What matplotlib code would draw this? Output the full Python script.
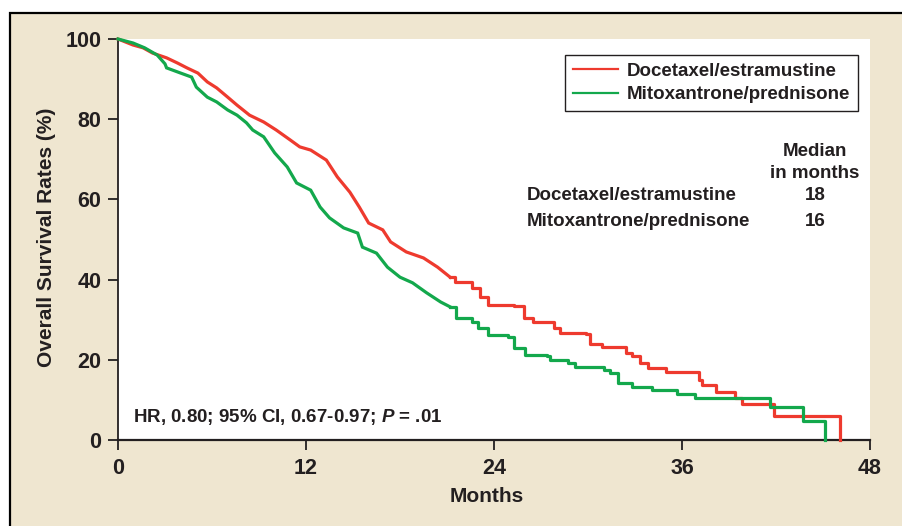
import matplotlib
matplotlib.use("Agg")
import matplotlib.pyplot as plt
from matplotlib.patches import Rectangle
from matplotlib.lines import Line2D

# Kaplan-Meier curves: months, overall survival (%)
doc_months = [0, 0.96, 1.6, 2.2, 3.1, 3.8, 4.4, 5.1, 5.7, 6.3,
              7.0, 7.6, 8.4, 9.3, 10.1, 11.0, 11.6, 12.3, 13.3, 14.0,
              14.8, 15.4, 16.0, 16.9, 17.4, 18.4, 19.5, 20.4, 21.2, 21.5,
              22.6, 23.1, 23.6, 25.3, 25.9, 26.5, 27.8, 28.2, 29.9, 30.1,
              30.9, 32.4, 32.8, 33.3, 33.8, 35.0, 37.1, 37.3, 38.2, 39.4,
              39.8, 41.9, 46.1]
doc_surv = [100, 98.5, 97.8, 96.5, 95.3, 94.0, 92.8, 91.5, 89.3, 87.8,
            85.5, 83.5, 81.0, 79.3, 77.3, 74.8, 73.1, 72.3, 69.8, 65.6,
            61.8, 58.1, 54.1, 52.4, 49.4, 46.9, 45.4, 43.1, 40.6, 39.4,
            37.9, 35.7, 33.7, 33.4, 30.4, 29.4, 27.9, 26.7, 26.4, 23.9,
            23.2, 21.7, 20.9, 19.2, 18.0, 17.0, 15.0, 13.7, 12.0, 10.5,
            9.0, 6.0, 0]

mit_months = [0, 0.96, 1.7, 2.5, 3.0, 3.1, 4.0, 4.7, 5.0, 5.7,
              6.3, 7.0, 7.6, 8.2, 8.6, 9.3, 10.0, 10.8, 11.4, 12.3,
              12.9, 13.5, 14.4, 15.3, 15.6, 16.5, 17.2, 18.0, 18.8, 19.7,
              20.6, 21.2, 21.6, 22.6, 23.0, 23.6, 24.9, 25.3, 26.0, 27.4,
              27.6, 28.7, 29.2, 31.0, 31.4, 31.9, 32.8, 34.1, 35.7, 36.8,
              41.6, 43.7, 45.1]
mit_surv = [100, 99, 97.8, 96, 93.8, 92.8, 91.5, 90.5, 88.0, 85.5,
            84.3, 82.3, 81.0, 79.1, 77.3, 75.6, 71.6, 68.1, 64.1, 62.3,
            58.1, 55.4, 52.9, 51.6, 48.1, 46.6, 43.1, 40.6, 39.2, 36.7,
            34.4, 33.2, 30.4, 29.4, 27.9, 26.2, 25.7, 22.9, 21.2, 20.9,
            20.0, 19.2, 18.2, 17.5, 16.7, 14.2, 13.2, 12.5, 11.5, 10.5,
            8.2, 4.7, 0]

series_names = ["Docetaxel/estramustine", "Mitoxantrone/prednisone"]
medians = ["18", "16"]
x_ticks = [0, 12, 24, 36, 48]
y_ticks = [0, 20, 40, 60, 80, 100]

RED = "#ee3a2e"
GREEN = "#13a84c"
INK = "#231f20"
BEIGE = "#efe6d0"
dense_until = 21.2   # dense part drawn as a line, sparse tail as steps

plt.rcParams['font.family'] = ['Liberation Sans', 'DejaVu Sans']
plt.rcParams['font.weight'] = 'bold'
plt.rcParams['mathtext.fontset'] = 'custom'
plt.rcParams['mathtext.it'] = 'Liberation Sans:italic:bold'

W, H = 902, 526
fig = plt.figure(figsize=(W / 100, H / 100), dpi=100, facecolor='white')
tfx = lambda px: px / W
tfy = lambda py: 1 - py / H

# beige panel with black rule on top and left
fig.patches.append(Rectangle((10 / W, -0.05), 1.2, 1 - 12.5 / H + 0.05,
                             transform=fig.transFigure, facecolor=BEIGE,
                             edgecolor='black', linewidth=1.6, zorder=-10))

ax = fig.add_axes([118 / W, 1 - 440 / H, 752 / W, 401 / H])
ax.set_facecolor('white')


def draw_km(months, surv, color):
    k = max(i for i, m in enumerate(months) if m <= dense_until)
    ax.plot(months[:k + 1], surv[:k + 1], color=color, lw=2.3,
            solid_joinstyle='miter', clip_on=False, zorder=3)
    ax.step(months[k:], surv[k:], where='post', color=color, lw=2.3,
            clip_on=False, zorder=3)


draw_km(doc_months, doc_surv, RED)
draw_km(mit_months, mit_surv, GREEN)

ax.set_xlim(0, 48)
ax.set_ylim(0, 100)
ax.set_xticks(x_ticks)
ax.set_yticks(y_ticks)
for s in ['top', 'right']:
    ax.spines[s].set_visible(False)
ax.spines['left'].set_linewidth(1.3)
ax.spines['bottom'].set_linewidth(1.6)
ax.spines['left'].set_color(INK)
ax.spines['bottom'].set_color(INK)
ax.tick_params(direction='out', length=7, width=1.3, color=INK,
               labelsize=15.5, labelcolor=INK, pad=5)
ax.tick_params(axis='x', pad=6)

ax.set_xlabel("Months", fontsize=15, fontweight='bold', color=INK, va='center')
ax.xaxis.set_label_coords(0.49, -0.14)
ax.set_ylabel("Overall Survival Rates (%)", fontsize=15, fontweight='bold',
              color=INK, va='center')
ax.yaxis.set_label_coords(-0.095, 0.505)

handles = [Line2D([], [], color=RED, lw=1.6), Line2D([], [], color=GREEN, lw=1.6)]
leg = ax.legend(handles, series_names, loc='upper left',
                bbox_to_anchor=(565 / W, 1 - 55 / H), bbox_transform=fig.transFigure,
                borderaxespad=0, fancybox=False, frameon=True, framealpha=1,
                edgecolor=INK, fontsize=13.5, handlelength=2.4, handletextpad=0.5,
                labelspacing=0.35, borderpad=0.4)
leg.get_frame().set_linewidth(1.0)
for t in leg.get_texts():
    t.set_color(INK)
    t.set_fontweight('bold')

# median survival table
fig.text(tfx(815), tfy(152), "Median", fontsize=13.5, color=INK, ha='center', va='center')
fig.text(tfx(815), tfy(173), "in months", fontsize=13.5, color=INK, ha='center', va='center')
for i, (name, med) in enumerate(zip(series_names, medians)):
    y = 195 + 27 * i
    fig.text(tfx(527), tfy(y), name, fontsize=13.5, color=INK, ha='left', va='center')
    fig.text(tfx(815), tfy(y), med, fontsize=13.5, color=INK, ha='center', va='center')

fig.text(tfx(133), tfy(417), r"HR, 0.80; 95% CI, 0.67-0.97; $P$ = .01",
         fontsize=13.5, color=INK, ha='left', va='center')

fig.savefig("out.png", dpi=100, facecolor=fig.get_facecolor())
